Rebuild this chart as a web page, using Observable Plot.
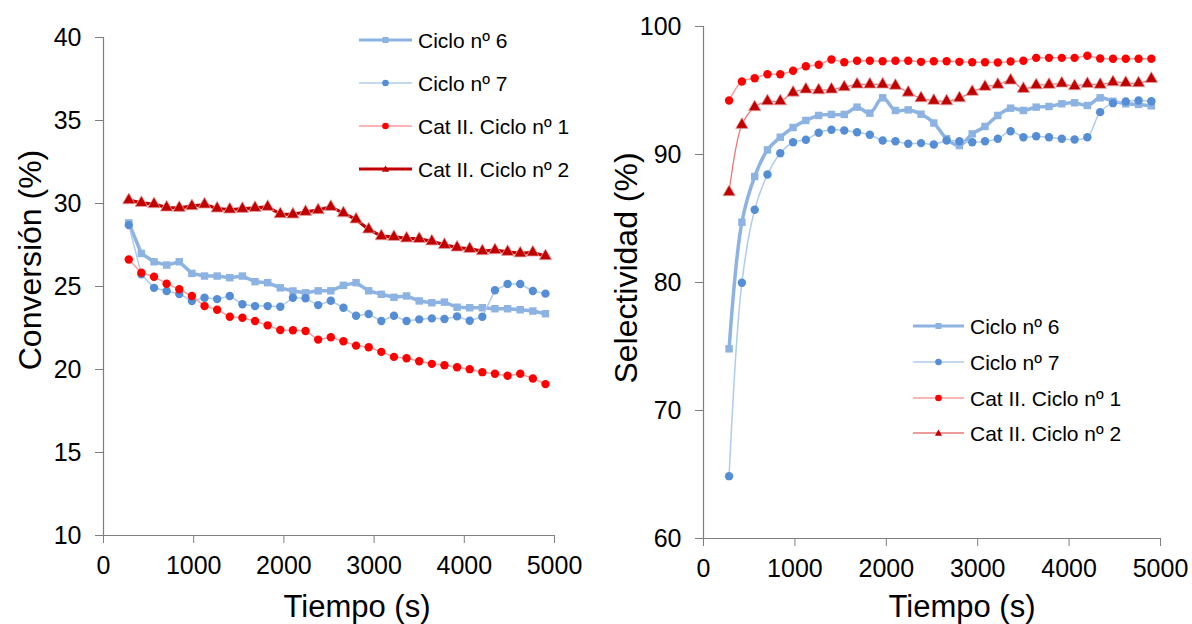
<!DOCTYPE html>
<html>
<head>
<meta charset="utf-8">
<script src="https://cdn.jsdelivr.net/npm/d3@7"></script>
<script src="https://cdn.jsdelivr.net/npm/@observablehq/plot@0.6"></script>
<style>
  html, body { margin: 0; padding: 0; background: #fff; }
  #wrap { position: relative; width: 1192px; height: 624px; overflow: hidden; font-family: "Liberation Sans", Arial, sans-serif; color: #000; }
  .abs { position: absolute; }
  .ttl { position: absolute; white-space: nowrap; line-height: 1; }
  .leg { position: absolute; display: flex; align-items: center; white-space: nowrap; font-size: 21px; line-height: 1; }
  .leg svg { display: block; margin-right: 6px; }
</style>
</head>
<body>
<div id="wrap"></div>
<script>
// ---------------- DATA ----------------
const seriesNames = ["Ciclo nº 6", "Ciclo nº 7", "Cat II. Ciclo nº 1", "Cat II. Ciclo nº 2"];
const time = [280, 420, 560, 700, 840, 980, 1120, 1260, 1400, 1540, 1680, 1820, 1960, 2100, 2240, 2380, 2520,
              2660, 2800, 2940, 3080, 3220, 3360, 3500, 3640, 3780, 3920, 4060, 4200, 4340, 4480, 4620, 4760, 4900];

// Conversión (%)
const conv6 = [28.83, 26.99, 26.49, 26.29, 26.49, 25.79, 25.63, 25.63, 25.53, 25.63, 25.29, 25.23, 24.92, 24.73, 24.62, 24.74, 24.74,
               25.07, 25.23, 24.74, 24.53, 24.35, 24.43, 24.13, 24.02, 24.06, 23.75, 23.72, 23.72, 23.66, 23.66, 23.60, 23.52, 23.36];
const conv7 = [28.70, 25.73, 24.92, 24.73, 24.55, 24.13, 24.32, 24.24, 24.43, 23.93, 23.82, 23.82, 23.78, 24.32, 24.29, 23.88, 24.14,
               23.72, 23.24, 23.34, 22.92, 23.24, 22.92, 23.02, 23.08, 23.04, 23.20, 22.94, 23.18, 24.77, 25.15, 25.15, 24.73, 24.57];
const convCat1 = [26.63, 25.83, 25.59, 25.17, 24.83, 24.43, 23.82, 23.60, 23.18, 23.12, 22.92, 22.66, 22.38, 22.36, 22.32, 21.80, 21.94,
                  21.70, 21.44, 21.34, 21.06, 20.76, 20.68, 20.50, 20.34, 20.26, 20.14, 20.02, 19.84, 19.74, 19.62, 19.74, 19.46, 19.12];
const convCat2 = [30.20, 30.04, 29.96, 29.76, 29.74, 29.84, 29.94, 29.70, 29.64, 29.68, 29.74, 29.80, 29.36, 29.34, 29.50, 29.60, 29.80,
                  29.42, 29.04, 28.44, 28.03, 27.99, 27.90, 27.87, 27.72, 27.51, 27.35, 27.27, 27.13, 27.19, 27.09, 27.00, 27.05, 26.83];

// Selectividad (%)
const sel6 = [74.82, 84.71, 88.28, 90.36, 91.35, 92.11, 92.66, 93.05, 93.13, 93.13, 93.70, 93.23, 94.43, 93.44, 93.49, 93.15, 92.46,
              91.23, 90.70, 91.61, 92.19, 93.05, 93.62, 93.44, 93.70, 93.75, 93.96, 94.04, 93.83, 94.43, 94.16, 93.96, 93.91, 93.80];
const sel7 = [64.87, 79.98, 85.68, 88.44, 90.10, 90.96, 91.15, 91.70, 91.93, 91.88, 91.74, 91.54, 91.09, 91.04, 90.84, 90.89, 90.78,
              91.09, 91.04, 90.96, 91.04, 91.23, 91.82, 91.35, 91.43, 91.35, 91.23, 91.17, 91.35, 93.31, 94.01, 94.14, 94.22, 94.16];
const selCat1 = [94.22, 95.70, 95.96, 96.27, 96.27, 96.54, 96.90, 97.01, 97.42, 97.21, 97.32, 97.32, 97.29, 97.32, 97.32, 97.24, 97.29,
                 97.29, 97.24, 97.21, 97.21, 97.19, 97.27, 97.32, 97.55, 97.55, 97.55, 97.55, 97.71, 97.50, 97.48, 97.48, 97.48, 97.48];
const selCat2 = [87.06, 92.32, 93.70, 94.16, 94.16, 94.84, 95.08, 95.02, 95.08, 95.26, 95.47, 95.47, 95.47, 95.37, 94.84, 94.40, 94.20,
                 94.16, 94.40, 94.90, 95.29, 95.45, 95.78, 95.13, 95.41, 95.45, 95.55, 95.34, 95.52, 95.45, 95.65, 95.60, 95.57, 95.91];

const xTicks = [0, 1000, 2000, 3000, 4000, 5000];
const convTicks = [10, 15, 20, 25, 30, 35, 40];
const selTicks = [60, 70, 80, 90, 100];
const xTitle = "Tiempo (s)";
const convTitle = "Conversión (%)";
const selTitle = "Selectividad (%)";

// ---------------- STYLES ----------------
const FONT = "Liberation Sans, Arial, sans-serif";
const C6 = "#8DB3E2", C7line = "#AFCBEE", C7dot = "#558ED5";
const R1line = "#FF9C9C", R1dot = "#FF0000";
const R2dot = "#C00000", R2lineThin = "#E87878";
const AXIS = "#7F7F7F";

const rows = (vals) => time.map((t, i) => ({t, v: vals[i]}));

function chart({vals, yDomain, yTicks, width, ml, mr, mt, mb, curve, cat2Thick}) {
  const [d6, d7, d1, d2] = vals.map(rows);
  return Plot.plot({
    width, height: 624,
    marginLeft: ml, marginRight: mr, marginTop: mt, marginBottom: mb,
    x: {domain: [xTicks[0], xTicks[xTicks.length - 1]]},
    y: {domain: [yTicks[0], yTicks[yTicks.length - 1]]},
    style: {fontFamily: FONT, background: "transparent", color: "#000", overflow: "visible"},
    marks: [
      Plot.axisX({ticks: xTicks, tickSize: 8, tickPadding: 13, fontSize: 25, stroke: AXIS, fill: "#000", label: null, tickFormat: d => String(d)}),
      Plot.axisY({ticks: yTicks, tickSize: 8, tickPadding: 14, fontSize: 25, stroke: AXIS, fill: "#000", label: null, tickFormat: d => String(d)}),
      Plot.ruleX([xTicks[0]], {stroke: AXIS, strokeWidth: 1.2}),
      Plot.ruleY([yTicks[0]], {stroke: AXIS, strokeWidth: 1.2}),
      // Ciclo 6
      Plot.line(d6, {x: "t", y: "v", stroke: C6, strokeWidth: 3.5, curve}),
      Plot.dot(d6, {x: "t", y: "v", symbol: "square", r: 4.2, fill: C6, stroke: "none"}),
      // Ciclo 7
      Plot.line(d7, {x: "t", y: "v", stroke: C7line, strokeWidth: 1.5, curve}),
      Plot.dot(d7, {x: "t", y: "v", symbol: "circle", r: 4.2, fill: C7dot, stroke: "none"}),
      // Cat II 1
      Plot.line(d1, {x: "t", y: "v", stroke: R1line, strokeWidth: 1.5, curve}),
      Plot.dot(d1, {x: "t", y: "v", symbol: "circle", r: 4.2, fill: R1dot, stroke: "none"}),
      // Cat II 2
      Plot.line(d2, {x: "t", y: "v", stroke: cat2Thick ? R2dot : R2lineThin, strokeWidth: cat2Thick ? 3.2 : 1.3, curve}),
      Plot.dot(d2, {x: "t", y: "v", symbol: "triangle", r: 4.6, fill: R2dot, stroke: "#E8A0A0", strokeWidth: 0.8})
    ]
  });
}

const wrap = document.getElementById("wrap");

const left = chart({vals: [conv6, conv7, convCat1, convCat2], yDomain: null, yTicks: convTicks,
  width: 590, ml: 103, mr: 36, mt: 37, mb: 89, curve: "linear", cat2Thick: true});
left.classList.add("abs"); left.style.left = "0px"; left.style.top = "0px";
wrap.appendChild(left);

const right = chart({vals: [sel6, sel7, selCat1, selCat2], yDomain: null, yTicks: selTicks,
  width: 602, ml: 113, mr: 32, mt: 26, mb: 86, curve: "catmull-rom", cat2Thick: false});
right.classList.add("abs"); right.style.left = "590px"; right.style.top = "0px";
wrap.appendChild(right);

// ---------------- TITLES ----------------
function title(text, size, cx, cy, rotate) {
  const d = document.createElement("div");
  d.className = "ttl";
  d.textContent = text;
  d.style.fontSize = size + "px";
  d.style.left = cx + "px";
  d.style.top = cy + "px";
  d.style.transform = `translate(-50%, -50%)${rotate ? " rotate(-90deg)" : ""}`;
  wrap.appendChild(d);
}
title(xTitle, 31, 357, 606, false);
title(xTitle, 31, 962, 606, false);
title(convTitle, 32, 30, 260, true);
title(selTitle, 32, 626, 268, true);

// ---------------- LEGENDS ----------------
function swatch(kind, lineColor, lineW, markColor, w) {
  const ns = "http://www.w3.org/2000/svg";
  const s = document.createElementNS(ns, "svg");
  s.setAttribute("width", w); s.setAttribute("height", 14);
  const l = document.createElementNS(ns, "line");
  l.setAttribute("x1", 0); l.setAttribute("x2", w); l.setAttribute("y1", 7); l.setAttribute("y2", 7);
  l.setAttribute("stroke", lineColor); l.setAttribute("stroke-width", lineW);
  s.appendChild(l);
  let m;
  const cx = w / 2;
  if (kind === "square") {
    m = document.createElementNS(ns, "rect");
    m.setAttribute("x", cx - 3); m.setAttribute("y", 4); m.setAttribute("width", 6); m.setAttribute("height", 6);
  } else if (kind === "circle") {
    m = document.createElementNS(ns, "circle");
    m.setAttribute("cx", cx); m.setAttribute("cy", 7); m.setAttribute("r", 3.3);
  } else {
    m = document.createElementNS(ns, "path");
    m.setAttribute("d", `M${cx},3.5L${cx + 3.6},9.8L${cx - 3.6},9.8Z`);
  }
  m.setAttribute("fill", markColor);
  s.appendChild(m);
  return s;
}
function legend(x, ys, w, cat2Thick) {
  const specs = [
    ["square", C6, 3.2, C6],
    ["circle", C7line, 1.5, C7dot],
    ["circle", R1line, 1.5, R1dot],
    ["triangle", cat2Thick ? R2dot : R2lineThin, cat2Thick ? 3 : 1.3, R2dot]
  ];
  specs.forEach((sp, i) => {
    const d = document.createElement("div");
    d.className = "leg";
    d.style.left = x + "px";
    d.style.top = (ys[i] - 10) + "px";
    d.style.height = "20px";
    d.appendChild(swatch(sp[0], sp[1], sp[2], sp[3], w));
    const t = document.createElement("span");
    t.textContent = seriesNames[i];
    d.appendChild(t);
    wrap.appendChild(d);
  });
}
legend(359, [40, 83, 126, 169], 53, true);
legend(913, [326, 362, 398, 433], 51, false);
</script>
</body>
</html>
